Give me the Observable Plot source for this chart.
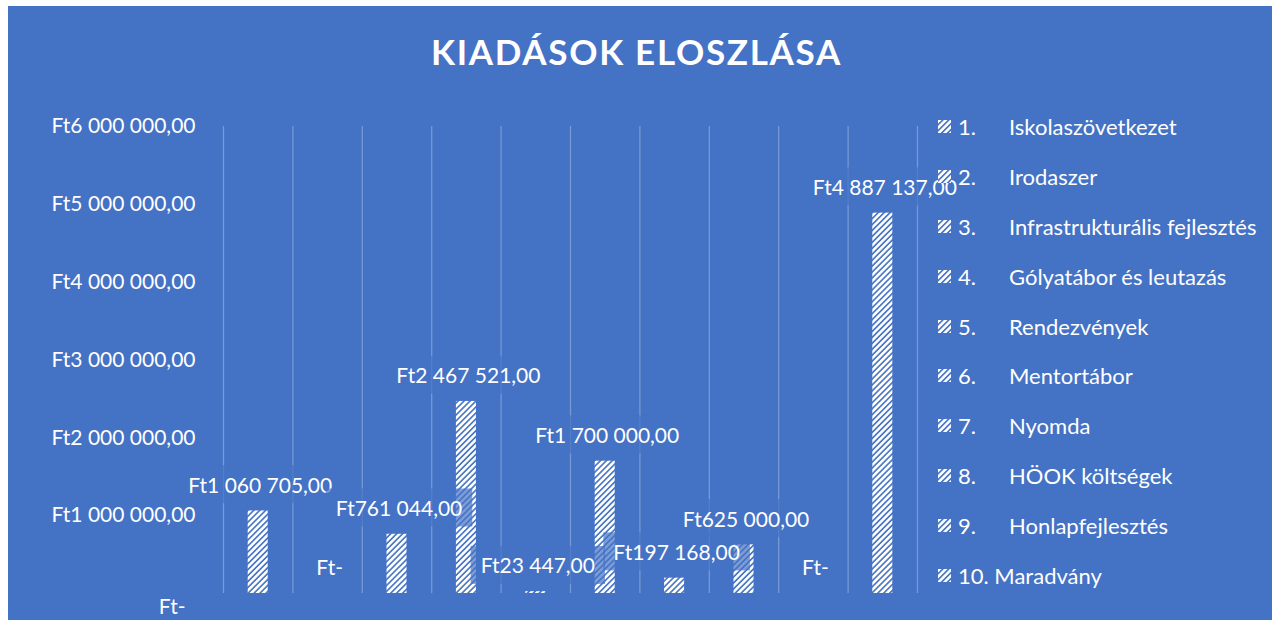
<!DOCTYPE html>
<html><head><meta charset="utf-8">
<script src="https://cdn.jsdelivr.net/npm/d3@7"></script>
<script src="https://cdn.jsdelivr.net/npm/@observablehq/plot@0.6"></script>
<style>
body{margin:0;background:#fff;width:1273px;height:620px;overflow:hidden;font-family:Lato,sans-serif;position:relative}
#bg{position:absolute;left:8px;top:6px;width:1264px;height:614px;background:#4472C4}
#title{position:absolute;left:0;width:1273px;top:30px;text-align:center;color:#fff;font-weight:bold;font-size:35px;letter-spacing:1.7px;font-family:Lato,sans-serif;line-height:normal}
#chart{position:absolute;left:0;top:100px}
#legend{position:absolute;left:938px;top:102px;color:#fff;font-size:22px;font-family:Lato,sans-serif}
.row{height:49.8px;display:flex;align-items:center;white-space:nowrap}
.row svg{width:13px;height:13px;margin-right:7px;flex:none}
.num{display:inline-block;min-width:51px}
</style></head>
<body>
<div id="bg"></div>
<div id="title">KIADÁSOK ELOSZLÁSA</div>
<div id="chart"></div>
<div id="legend"></div>
<script>
const numbers = ["1.", "2.", "3.", "4.", "5.", "6.", "7.", "8.", "9.", "10."];
const names = ["Iskolaszövetkezet", "Irodaszer", "Infrastrukturális fejlesztés", "Gólyatábor és leutazás", "Rendezvények", "Mentortábor", "Nyomda", "HÖOK költségek", "Honlapfejlesztés", "Maradvány"];
const values = [1060705, 0, 761044, 2467521, 23447, 1700000, 197168, 625000, 0, 4887137];
const yTicks = [0, 1000000, 2000000, 3000000, 4000000, 5000000, 6000000];

const BLUE = "#4472C4";
const fmt = v => v === 0 ? "Ft-" : "Ft" + d3.format(",.2f")(v).replace(/,/g, " ").replace(".", ",");

const data = values.map((v, i) => ({i, v, name: names[i]}));

const defs = () => {
  const s = d3.create("svg:defs");
  const p = s.append("pattern").attr("id", "hatch").attr("patternUnits", "userSpaceOnUse")
    .attr("width", 4.2).attr("height", 4.2).attr("patternTransform", "rotate(45)");
  p.append("rect").attr("width", 4.2).attr("height", 4.2).attr("fill", BLUE);
  p.append("rect").attr("width", 2.6).attr("height", 4.2).attr("fill", "#fff");
  return s.node();
};

const plot = Plot.plot({
  width: 1273, height: 520,
  marginLeft: 223, marginRight: 1273 - 917, marginTop: 26, marginBottom: 27,
  style: {background: "transparent", color: "#fff", fontFamily: "Lato, sans-serif", fontSize: "21px", overflow: "visible"},
  x: {domain: [0, values.length], axis: null},
  y: {domain: [0, 6000000], axis: null},
  marks: [
    defs,
    Plot.ruleX(d3.range(values.length + 1), {stroke: "#fff", strokeOpacity: 0.28, strokeWidth: 1.3}),
    Plot.rectY(data, {x1: "i", x2: d => d.i + 1, y1: 0, y2: "v", insetLeft: 24.7, insetRight: 24.7, fill: "url(#hatch)"}),
    Plot.text(data, {x: d => d.i + 0.5, y: "v", text: d => fmt(d.v), dy: -25, dx: 2, fill: "#fff", fontSize: 21}),
    Plot.axisY(yTicks.filter(t => t > 0), {tickSize: 0, tickPadding: 28, tickFormat: fmt, fontSize: 21, fill: "#fff", label: null}),
    Plot.axisY(yTicks.filter(t => t === 0), {tickSize: 0, tickPadding: 28, tickFormat: fmt, fontSize: 21, fill: "#fff", dy: 14, dx: -10, label: null})
  ]
});
document.getElementById("chart").appendChild(plot);

// label background boxes (semi-transparent, like the original data-label fills)
plot.querySelectorAll('g[aria-label="text"] text').forEach(t => {
  const b = t.getBBox();
  const cy = b.y + b.height / 2;
  const r = document.createElementNS("http://www.w3.org/2000/svg", "rect");
  r.setAttribute("x", b.x - 10);
  r.setAttribute("y", cy - 19);
  r.setAttribute("width", b.width + 20);
  r.setAttribute("height", 38);
  r.setAttribute("fill", BLUE);
  r.setAttribute("fill-opacity", 0.7);
  if (t.getAttribute("transform")) r.setAttribute("transform", t.getAttribute("transform"));
  t.parentNode.insertBefore(r, t);
});

// legend
const leg = d3.select("#legend");
names.forEach((n, i) => {
  const row = leg.append("div").attr("class", "row");
  row.append("svg").attr("viewBox", "0 0 13 13").append("rect").attr("width", 13).attr("height", 13).attr("fill", "url(#hatch)");
  if (i < 9) {
    row.append("span").attr("class", "num").text(numbers[i]);
    row.append("span").text(n);
  } else {
    row.append("span").text(numbers[i] + " " + n);
  }
});
</script>
</body></html>
